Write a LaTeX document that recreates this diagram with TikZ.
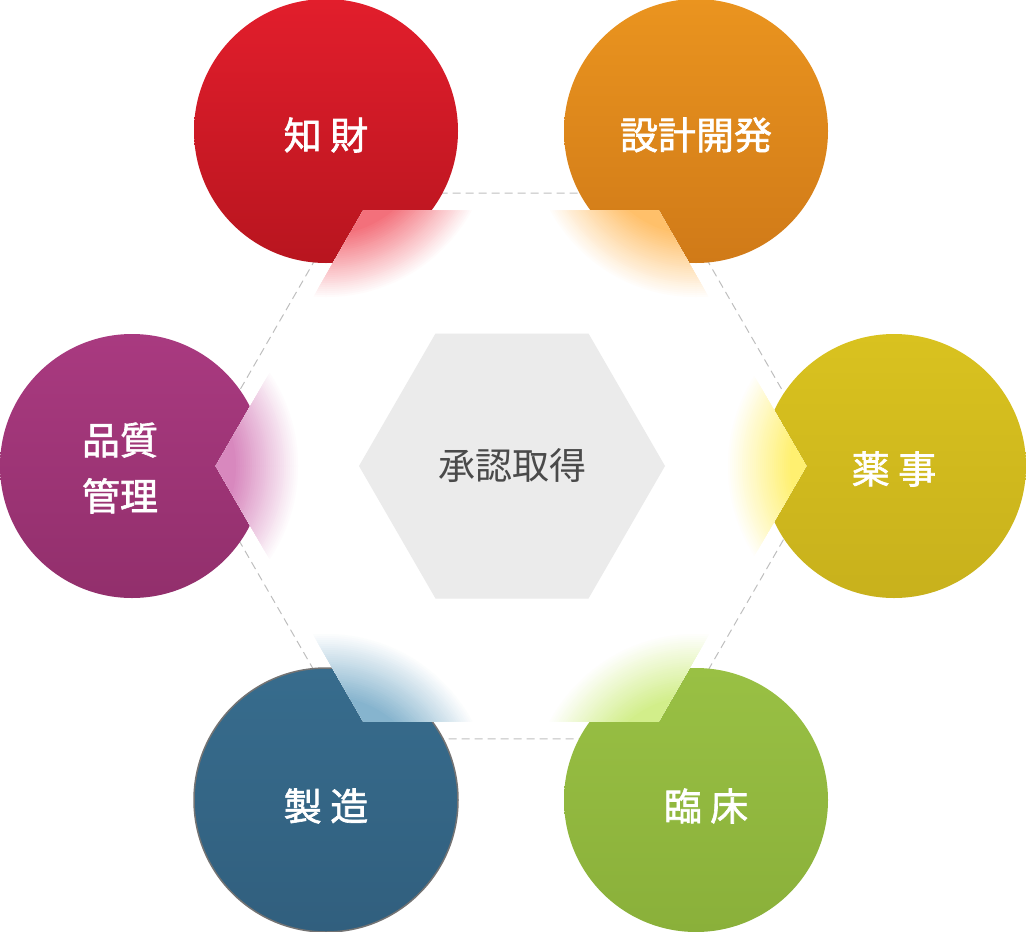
\documentclass[tikz,border=0pt]{standalone}
\usepackage{fontspec}
\newfontfamily\cjk{Noto Sans CJK JP}
\newfontfamily\cjkmid{Noto Sans CJK JP}[FakeBold=1.6]
\usetikzlibrary{shapes.geometric}

\definecolor{chizaiA}{HTML}{E21E2C}
\definecolor{chizaiB}{HTML}{B8151F}
\definecolor{sekkeiA}{HTML}{EA941F}
\definecolor{sekkeiB}{HTML}{D07A18}
\definecolor{yakujiA}{HTML}{D9C21F}
\definecolor{yakujiB}{HTML}{C8B11C}
\definecolor{hinshitsuA}{HTML}{A93A80}
\definecolor{hinshitsuB}{HTML}{922F6C}
\definecolor{seizoA}{HTML}{376C8D}
\definecolor{seizoB}{HTML}{315F7E}
\definecolor{rinshoA}{HTML}{99C044}
\definecolor{rinshoB}{HTML}{8AB03A}
% glow colours
\definecolor{chizaiG}{HTML}{F3707B}
\definecolor{sekkeiG}{HTML}{FFC06A}
\definecolor{yakujiG}{HTML}{FFF070}
\definecolor{rinshoG}{HTML}{D2EE8A}
\definecolor{seizoG}{HTML}{86B4CE}
\definecolor{hinshitsuG}{HTML}{D888BE}
\definecolor{ringgray}{HTML}{BEBEBE}
\definecolor{corefill}{HTML}{EBEBEB}
\definecolor{coretext}{HTML}{4A4A4A}

% soft glow round a circle centre: rings from white to #2
\newcommand{\cornerglow}[2]{%
  \foreach \k in {0,...,32}{
    \pgfmathtruncatemacro\p{\k*100/32}
    \pgfmathsetmacro\r{168-2*\k}
    \fill[#2!\p!white] (#1.center) circle (\r pt);
  }}

\begin{document}
\begin{tikzpicture}[x=1pt,y=-1pt,
  topic/.style={circle, minimum size=264pt, inner sep=0pt},
  label/.style={text=white, align=center, font=\cjkmid\fontsize{38}{56}\selectfont}
]
\useasboundingbox (0,0) rectangle (1026,932);

% Dashed ring
\node[regular polygon, regular polygon sides=6, minimum size=630pt, inner sep=0pt,
  draw=ringgray, dash pattern=on 8pt off 5pt, line width=1pt] (ring) at (511,466) {};

% Circles
\node[topic, top color=chizaiA, bottom color=chizaiB] (chizai) at (326,131) {};
\node[topic, top color=sekkeiA, bottom color=sekkeiB] (sekkei) at (696,131) {};
\node[topic, top color=yakujiA, bottom color=yakujiB] (yakuji) at (894,466) {};
\node[topic, top color=rinshoA, bottom color=rinshoB] (rinsho) at (696,800) {};
\node[topic, top color=seizoA, bottom color=seizoB, draw=gray!110, line width=1.5pt] (seizo) at (326,800) {};
\node[topic, top color=hinshitsuA, bottom color=hinshitsuB] (hinshitsu) at (132,466) {};

% White hexagon
\node[regular polygon, regular polygon sides=6, minimum size=590pt, inner sep=0pt,
  fill=white] (mask) at (511,466) {};

% Glows
\begin{scope}
  \clip (mask.corner 1) -- (mask.corner 2) -- (mask.corner 3) -- (mask.corner 4)
    -- (mask.corner 5) -- (mask.corner 6) -- cycle;
  \cornerglow{chizai}{chizaiG}
  \cornerglow{sekkei}{sekkeiG}
  \cornerglow{yakuji}{yakujiG}
  \cornerglow{rinsho}{rinshoG}
  \cornerglow{seizo}{seizoG}
  \cornerglow{hinshitsu}{hinshitsuG}
\end{scope}

% Centre
\node[regular polygon, regular polygon sides=6, minimum size=306pt, inner sep=0pt,
  fill=corefill, text=coretext, font=\cjk\fontsize{37}{44}\selectfont] (core) at (512,466) {承認取得};

% Labels
\node[label] (chizaiText) at ([yshift=-4pt]chizai.center) {知 財};
\node[label] (sekkeiText) at ([yshift=-4pt]sekkei.center) {設計開発};
\node[label] (yakujiText) at ([yshift=-3pt]yakuji.center) {薬 事};
\node[label] (rinshoText) at ([xshift=10pt,yshift=-6pt]rinsho.center) {臨 床};
\node[label] (seizoText) at ([yshift=-6pt]seizo.center) {製 造};
\node[label] (hinshitsuText) at ([xshift=-12pt,yshift=-2pt]hinshitsu.center) {品質\\管理};
\end{tikzpicture}
\end{document}
